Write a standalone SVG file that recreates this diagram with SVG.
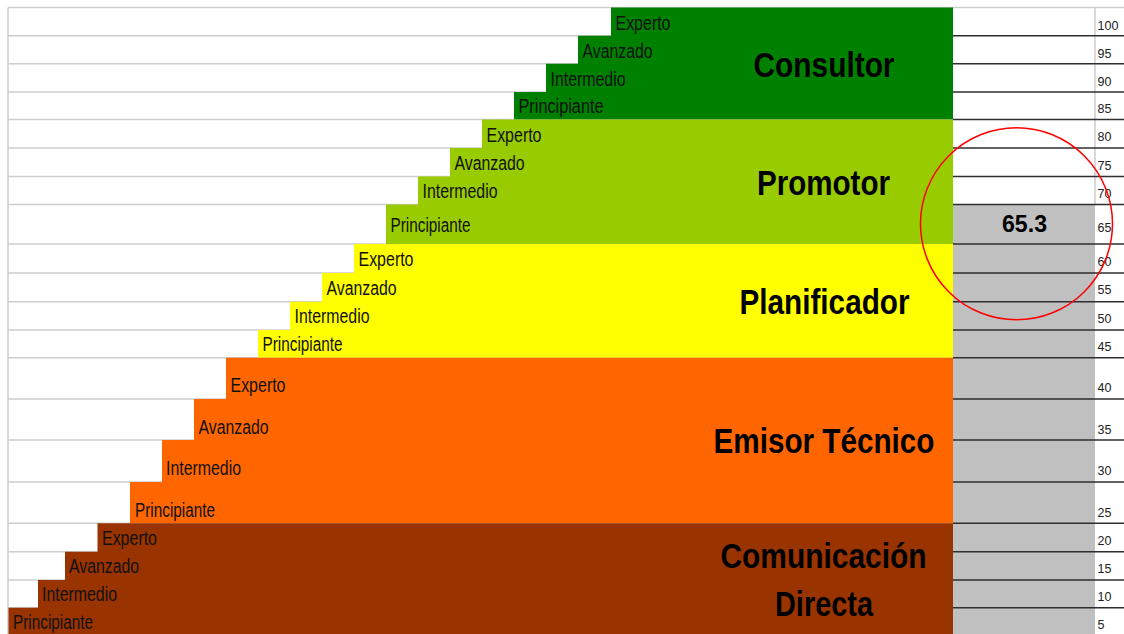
<svg xmlns="http://www.w3.org/2000/svg" width="1124" height="634" viewBox="0 0 1124 634">
  <style>
    .grid { stroke: #cdcdcd; stroke-width: 1.5; fill: none; }
    .rule { stroke: #2e2e2e; stroke-width: 1.5; fill: none; }
    .lvl { font-family: "Liberation Sans", Arial, sans-serif; font-size: 19.5px; fill: #111; }
    .title { font-family: "Liberation Sans", Arial, sans-serif; font-size: 35px; font-weight: bold; fill: #000; text-anchor: middle; }
    .num { font-family: "Liberation Sans", Arial, sans-serif; font-size: 12.5px; fill: #222; }
    .score { font-family: "Liberation Sans", Arial, sans-serif; font-size: 23px; font-weight: bold; fill: #000; text-anchor: middle; }
  </style>

  <rect x="0" y="0" width="1124" height="634" fill="#ffffff"/>

  <!-- light grid in the empty area to the left of the steps -->
  <g id="grid">
    <line class="grid" x1="8" y1="7.5" x2="1124" y2="7.5"/>
    <line class="grid" x1="8" y1="7.5" x2="8" y2="634"/>
    <line class="grid" x1="8" y1="35.7" x2="953" y2="35.7"/>
    <line class="grid" x1="8" y1="63.7" x2="953" y2="63.7"/>
    <line class="grid" x1="8" y1="92" x2="953" y2="92"/>
    <line class="grid" x1="8" y1="119.5" x2="953" y2="119.5"/>
    <line class="grid" x1="8" y1="148" x2="953" y2="148"/>
    <line class="grid" x1="8" y1="176.5" x2="953" y2="176.5"/>
    <line class="grid" x1="8" y1="204.5" x2="953" y2="204.5"/>
    <line class="grid" x1="8" y1="244" x2="953" y2="244"/>
    <line class="grid" x1="8" y1="273" x2="953" y2="273"/>
    <line class="grid" x1="8" y1="301.7" x2="953" y2="301.7"/>
    <line class="grid" x1="8" y1="330" x2="953" y2="330"/>
    <line class="grid" x1="8" y1="357.7" x2="953" y2="357.7"/>
    <line class="grid" x1="8" y1="399" x2="953" y2="399"/>
    <line class="grid" x1="8" y1="440" x2="953" y2="440"/>
    <line class="grid" x1="8" y1="482" x2="953" y2="482"/>
    <line class="grid" x1="8" y1="523.3" x2="953" y2="523.3"/>
    <line class="grid" x1="8" y1="551.7" x2="953" y2="551.7"/>
    <line class="grid" x1="8" y1="580" x2="953" y2="580"/>
    <line class="grid" x1="8" y1="607.7" x2="953" y2="607.7"/>
    <line class="grid" x1="1095" y1="7.5" x2="1095" y2="204.5"/>
  </g>

  <!-- Consultor -->
  <g id="consultor">
    <path d="M611,7.5 H953 V119.5 H514 V92 H546 V63.7 H578 V35.7 H611 Z" fill="#008000"/>
    <text class="lvl" x="615.5" y="29.5" textLength="55" lengthAdjust="spacingAndGlyphs">Experto</text>
    <text class="lvl" x="582.5" y="57.5" textLength="70" lengthAdjust="spacingAndGlyphs">Avanzado</text>
    <text class="lvl" x="550.5" y="86" textLength="75" lengthAdjust="spacingAndGlyphs">Intermedio</text>
    <text class="lvl" x="518.5" y="113" textLength="85" lengthAdjust="spacingAndGlyphs">Principiante</text>
    <text class="title" x="824" y="77.3" textLength="141" lengthAdjust="spacingAndGlyphs">Consultor</text>
  </g>

  <!-- Promotor -->
  <g id="promotor">
    <path d="M482,119.5 H953 V244 H386 V204.5 H418 V176.5 H450 V148 H482 Z" fill="#99cc00"/>
    <text class="lvl" x="486.5" y="141.5" textLength="55" lengthAdjust="spacingAndGlyphs">Experto</text>
    <text class="lvl" x="454.5" y="170" textLength="70" lengthAdjust="spacingAndGlyphs">Avanzado</text>
    <text class="lvl" x="422.5" y="197.5" textLength="75" lengthAdjust="spacingAndGlyphs">Intermedio</text>
    <text class="lvl" x="390.5" y="232" textLength="80" lengthAdjust="spacingAndGlyphs">Principiante</text>
    <text class="title" x="823.5" y="195" textLength="133" lengthAdjust="spacingAndGlyphs">Promotor</text>
  </g>

  <!-- Planificador -->
  <g id="planificador">
    <path d="M354,244 H953 V357.7 H258 V330 H290 V301.7 H322 V273 H354 Z" fill="#ffff00"/>
    <text class="lvl" x="358.5" y="266" textLength="55" lengthAdjust="spacingAndGlyphs">Experto</text>
    <text class="lvl" x="326.5" y="294.5" textLength="70" lengthAdjust="spacingAndGlyphs">Avanzado</text>
    <text class="lvl" x="294.5" y="323" textLength="75" lengthAdjust="spacingAndGlyphs">Intermedio</text>
    <text class="lvl" x="262.5" y="351" textLength="80" lengthAdjust="spacingAndGlyphs">Principiante</text>
    <text class="title" x="824.5" y="314" textLength="170" lengthAdjust="spacingAndGlyphs">Planificador</text>
  </g>

  <!-- Emisor Técnico -->
  <g id="emisor-tecnico">
    <path d="M226,357.7 H953 V523.3 H130 V482 H162 V440 H194 V399 H226 Z" fill="#ff6600"/>
    <text class="lvl" x="230.5" y="392.3" textLength="55" lengthAdjust="spacingAndGlyphs">Experto</text>
    <text class="lvl" x="198.5" y="434" textLength="70" lengthAdjust="spacingAndGlyphs">Avanzado</text>
    <text class="lvl" x="166" y="475" textLength="75" lengthAdjust="spacingAndGlyphs">Intermedio</text>
    <text class="lvl" x="135" y="516.7" textLength="80" lengthAdjust="spacingAndGlyphs">Principiante</text>
    <text class="title" x="824" y="453.3" textLength="221" lengthAdjust="spacingAndGlyphs">Emisor Técnico</text>
  </g>

  <!-- Comunicación Directa -->
  <g id="comunicacion-directa">
    <path d="M97.5,523.3 H953 V634 H8.5 V607.7 H38 V580 H65 V551.7 H97.5 Z" fill="#993300"/>
    <text class="lvl" x="102" y="545" textLength="55" lengthAdjust="spacingAndGlyphs">Experto</text>
    <text class="lvl" x="69" y="573.3" textLength="70" lengthAdjust="spacingAndGlyphs">Avanzado</text>
    <text class="lvl" x="42" y="601" textLength="75" lengthAdjust="spacingAndGlyphs">Intermedio</text>
    <text class="lvl" x="13" y="629.3" textLength="80" lengthAdjust="spacingAndGlyphs">Principiante</text>
    <text class="title" x="823.5" y="568.3" textLength="206" lengthAdjust="spacingAndGlyphs">Comunicación</text>
    <text class="title" x="824" y="615.7" textLength="98" lengthAdjust="spacingAndGlyphs">Directa</text>
  </g>

  <!-- score column and scale -->
  <g id="score-column">
    <rect x="953" y="204.5" width="142" height="430" fill="#c0c0c0"/>
    <line class="rule" x1="953" y1="35.7" x2="1124" y2="35.7"/>
    <line class="rule" x1="953" y1="63.7" x2="1124" y2="63.7"/>
    <line class="rule" x1="953" y1="92" x2="1124" y2="92"/>
    <line class="rule" x1="953" y1="119.5" x2="1124" y2="119.5"/>
    <line class="rule" x1="953" y1="148" x2="1124" y2="148"/>
    <line class="rule" x1="953" y1="176.5" x2="1124" y2="176.5"/>
    <line class="rule" x1="953" y1="204.5" x2="1124" y2="204.5"/>
    <line class="rule" x1="953" y1="244" x2="1124" y2="244"/>
    <line class="rule" x1="953" y1="273" x2="1124" y2="273"/>
    <line class="rule" x1="953" y1="301.7" x2="1124" y2="301.7"/>
    <line class="rule" x1="953" y1="330" x2="1124" y2="330"/>
    <line class="rule" x1="953" y1="357.7" x2="1124" y2="357.7"/>
    <line class="rule" x1="953" y1="399" x2="1124" y2="399"/>
    <line class="rule" x1="953" y1="440" x2="1124" y2="440"/>
    <line class="rule" x1="953" y1="482" x2="1124" y2="482"/>
    <line class="rule" x1="953" y1="523.3" x2="1124" y2="523.3"/>
    <line class="rule" x1="953" y1="551.7" x2="1124" y2="551.7"/>
    <line class="rule" x1="953" y1="580" x2="1124" y2="580"/>
    <line class="rule" x1="953" y1="607.7" x2="1124" y2="607.7"/>
    <text class="score" x="1024.5" y="232.3" textLength="45" lengthAdjust="spacingAndGlyphs">65.3</text>
  </g>

  <g id="scale">
    <text class="num" x="1097.5" y="29.5">100</text>
    <text class="num" x="1097.5" y="57.5">95</text>
    <text class="num" x="1097.5" y="86">90</text>
    <text class="num" x="1097.5" y="113">85</text>
    <text class="num" x="1097.5" y="141.3">80</text>
    <text class="num" x="1097.5" y="169.5">75</text>
    <text class="num" x="1097.5" y="197.5">70</text>
    <text class="num" x="1097.5" y="232.3">65</text>
    <text class="num" x="1097.5" y="265.8">60</text>
    <text class="num" x="1097.5" y="294.3">55</text>
    <text class="num" x="1097.5" y="322.5">50</text>
    <text class="num" x="1097.5" y="350.5">45</text>
    <text class="num" x="1097.5" y="392.3">40</text>
    <text class="num" x="1097.5" y="434">35</text>
    <text class="num" x="1097.5" y="475">30</text>
    <text class="num" x="1097.5" y="516.7">25</text>
    <text class="num" x="1097.5" y="545">20</text>
    <text class="num" x="1097.5" y="573.3">15</text>
    <text class="num" x="1097.5" y="601">10</text>
    <text class="num" x="1097.5" y="629.3">5</text>
  </g>

  <!-- highlight ring around the score -->
  <g id="highlight">
    <circle cx="1016.5" cy="223.8" r="96" fill="none" stroke="#ff0000" stroke-width="1.5"/>
  </g>
</svg>
